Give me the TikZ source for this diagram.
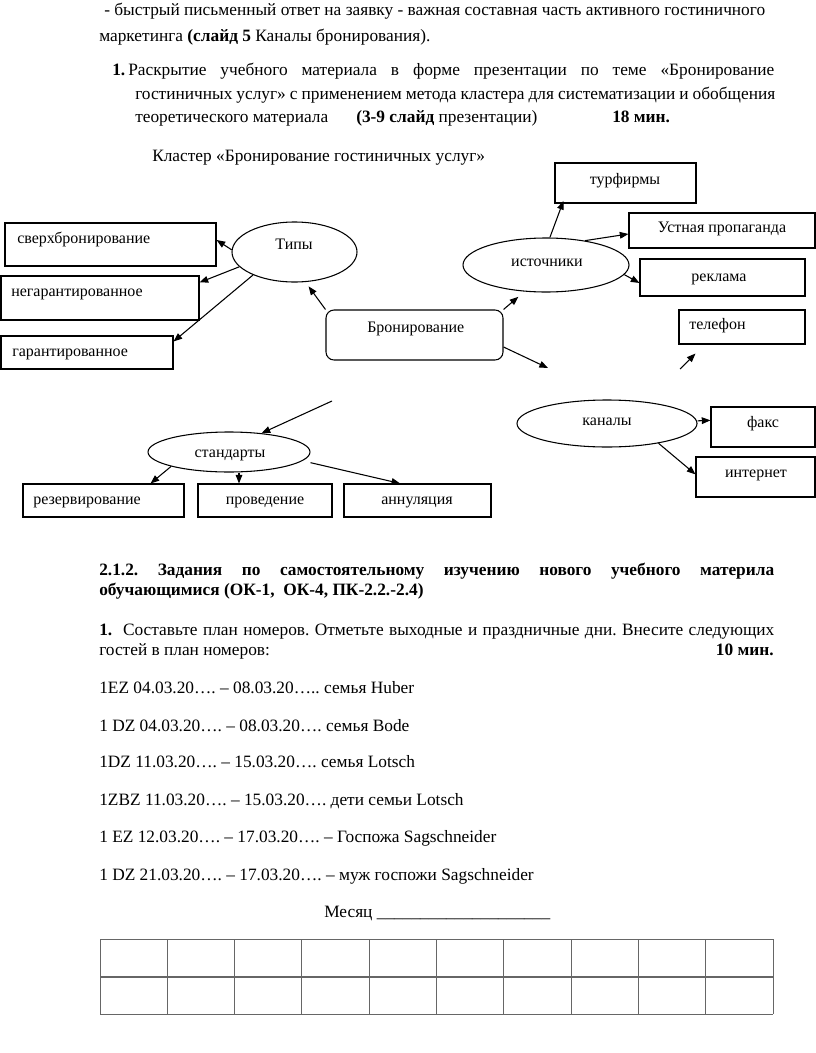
\documentclass[tikz,border=0pt]{standalone}
\usepackage{fontspec}
\setmainfont{Liberation Serif}
\usetikzlibrary{shapes.geometric,arrows.meta}
\frenchspacing
\tikzset{
  txt/.style={inner sep=0pt, font=\fontsize{12pt}{14pt}\selectfont},
  btxt/.style={inner sep=0pt, font=\fontsize{13pt}{15pt}\selectfont},
  box/.style={draw, rectangle, line width=0.8pt, inner sep=0pt},
  ell/.style={draw, ellipse, line width=0.8pt, inner sep=0pt},
  sz/.style 2 args={minimum width=#1*0.75pt, minimum height=#2*0.75pt},
  arr/.style={-{Triangle[length=6.5pt,width=5pt]}, line width=0.8pt},
  tab/.style={draw=black!60, line width=0.7pt}
}
\begin{document}
\begin{tikzpicture}[x=0.75pt,y=-0.75pt]
\useasboundingbox (0,0) rectangle (816,1053);
\clip (0,0) rectangle (816,1053);
% ---------- top text ----------
\node[btxt, anchor=base west] (t1) at (104,16) {\makebox[495.75pt][s]{- быстрый письменный ответ на заявку - важная составная часть активного гостиничного}};
\node[btxt, anchor=base west] (t2) at (99,41) {маркетинга \textbf{(слайд 5} Каналы бронирования).};
\node[btxt, anchor=base west] (n1) at (112,75) {\textbf{1.}};
\node[btxt, anchor=base west] (t3) at (128,75) {\makebox[484.5pt][s]{Раскрытие учебного материала в форме презентации по теме «Бронирование}};
\node[btxt, anchor=base west] (t4) at (135,99) {\makebox[480pt][s]{гостиничных услуг» с применением метода кластера для систематизации и обобщения}};
\node[btxt, anchor=base west] (t5) at (135,122) {теоретического материала};
\node[btxt, anchor=base west] (t6) at (356,122) {\textbf{(3-9 слайд} презентации)};
\node[btxt, anchor=base west] (t7) at (612,122) {\textbf{18 мин.}};
\node[btxt, anchor=base west] (t8) at (152,161) {Кластер «Бронирование гостиничных услуг»};
% ---------- cluster: boxes ----------
\node[box, sz={211}{43}] (sverh) at (110.5,244.5) {};
\node[box, sz={198}{44}] (negar) at (100,298) {};
\node[box, sz={172}{33}] (garant) at (87,352.5) {};
\node[box, sz={177}{50}, rounded corners=6pt] (bron) at (414.5,335) {};
\node[box, sz={141}{40}] (turf) at (625.5,183) {};
\node[box, sz={186}{35}] (ustn) at (722,230.5) {};
\node[box, sz={165}{37}] (rekl) at (722.5,277.5) {};
\node[box, sz={126}{34}] (tel) at (742,327) {};
\node[box, sz={104}{40}] (faks) at (763,427) {};
\node[box, sz={119}{40}] (inet) at (755.5,477) {};
\node[box, sz={161}{33}] (rezerv) at (103.5,500.5) {};
\node[box, sz={134}{33}] (proved) at (265,500.5) {};
\node[box, sz={147}{33}] (annul) at (417.5,500.5) {};
% ---------- cluster: ellipses ----------
\node[ell, sz={125}{60}] (tipy) at (294.5,252) {};
\node[ell, sz={166}{54}] (istoch) at (546,265) {};
\node[ell, sz={180}{47}] (kanaly) at (607,423.5) {};
\node[ell, sz={162}{40}] (stand) at (229,452) {};
% ---------- cluster: texts ----------
\node[txt, anchor=base west] (l-sverh) at (17,243) {сверхбронирование};
\node[txt, anchor=base west] (l-negar) at (11,296) {негарантированное};
\node[txt, anchor=base west] (l-garant) at (12,356) {гарантированное};
\node[txt, anchor=base] (l-tipy) at (294,249) {Типы};
\node[txt, anchor=base west] (l-bron) at (367,332) {Бронирование};
\node[txt, anchor=base] (l-turf) at (625,184) {турфирмы};
\node[txt, anchor=base] (l-ustn) at (722,232) {Устная пропаганда};
\node[txt, anchor=base] (l-istoch) at (547,266) {источники};
\node[txt, anchor=base] (l-rekl) at (719,281) {реклама};
\node[txt, anchor=base west] (l-tel) at (689,329) {телефон};
\node[txt, anchor=base] (l-kanaly) at (607,425) {каналы};
\node[txt, anchor=base] (l-faks) at (763,427) {факс};
\node[txt, anchor=base] (l-inet) at (756,477) {интернет};
\node[txt, anchor=base] (l-stand) at (230,457) {стандарты};
\node[txt, anchor=base west] (l-rezerv) at (33,504) {резервирование};
\node[txt, anchor=base] (l-proved) at (265,504) {проведение};
\node[txt, anchor=base] (l-annul) at (417,504) {аннуляция};
% ---------- cluster: free ends ----------
\coordinate (c1) at (548,368);
\coordinate (c2) at (680,369);
\coordinate (c3) at (332,401);
% ---------- cluster: arrows ----------
\draw[arr] (tipy.178) -- ([yshift=3.4pt]sverh.east);
\draw[arr] (tipy.195) -- ([yshift=-5.25pt]negar.north east);
\draw[arr] (tipy.209) -- ([yshift=-4.5pt]garant.north east);
\draw[arr, shorten >=4pt] (bron.north west) -- (tipy.290);
\draw[arr, shorten >=6pt] (bron.north east) -- (istoch.231);
\draw[arr] ([yshift=-9pt]bron.east) -- (c1);
\draw[arr] (c2) -- ([xshift=12.75pt,yshift=-6.75pt]tel.south west);
\draw[arr] (istoch.82) -- ([xshift=6.75pt,yshift=2pt]turf.south west);
\draw[arr] (istoch.32) -- ([yshift=-2.6pt]ustn.west);
\draw[arr] (istoch.353) -- ([yshift=-4.1pt]rekl.west);
\draw[arr] (c3) -- (stand.30);
\draw[arr] (stand.194) -- ([xshift=-25.5pt]rezerv.north east);
\draw[arr] ([xshift=7.5pt]stand.south) -- ([xshift=-19.5pt]proved.north);
\draw[arr] ([yshift=-8pt]stand.east) -- ([xshift=-13pt]annul.north);
\draw[arr] ([yshift=2pt]kanaly.east) -- ([yshift=5pt]faks.west);
\draw[arr] (kanaly.339) -- ([yshift=2pt]inet.west);
% ---------- bottom text ----------
\node[btxt, anchor=base west] (h1) at (99,575) {\makebox[506.25pt][s]{\bfseries 2.1.2. Задания по самостоятельному изучению нового учебного материла}};
\node[btxt, anchor=base west] (h2) at (99,595) {\bfseries обучающимися (ОК-1,\ \ ОК-4, ПК-2.2.-2.4)};
\node[btxt, anchor=base west] (p1) at (99,635) {\makebox[506.25pt][s]{\textbf{1.}\ \ Составьте план номеров. Отметьте выходные и праздничные дни. Внесите следующих}};
\node[btxt, anchor=base west] (p2) at (99,655) {гостей в план номеров:};
\node[btxt, anchor=base east] (p3) at (774,655) {\textbf{10 мин.}};
\node[btxt, anchor=base west] (g1) at (99,693) {1EZ 04.03.20…. – 08.03.20….. семья Huber};
\node[btxt, anchor=base west] (g2) at (99,731) {1 DZ 04.03.20…. – 08.03.20…. семья Bode};
\node[btxt, anchor=base west] (g3) at (99,767) {1DZ 11.03.20…. – 15.03.20…. семья Lotsch};
\node[btxt, anchor=base west] (g4) at (99,805) {1ZBZ 11.03.20…. – 15.03.20…. дети семьи Lotsch};
\node[btxt, anchor=base west] (g5) at (99,842) {1 EZ 12.03.20…. – 17.03.20…. – Госпожа Sagschneider};
\node[btxt, anchor=base west] (g6) at (99,880) {1 DZ 21.03.20…. – 17.03.20…. – муж госпожи Sagschneider};
\node[btxt, anchor=base west] (mes) at (324,917) {Месяц \_\_\_\_\_\_\_\_\_\_\_\_\_\_\_\_\_\_\_\_};
% ---------- table ----------
\foreach \i in {0,...,10} {
  \draw[tab] ({100+\i*67.3},939) -- ({100+\i*67.3},1014);
}
\draw[tab] (100,939) -- (773,939);
\draw[tab] (100,1014) -- (773,1014);
\draw[tab, line width=1.3pt] (100,977) -- (773,977);
\end{tikzpicture}
\end{document}
